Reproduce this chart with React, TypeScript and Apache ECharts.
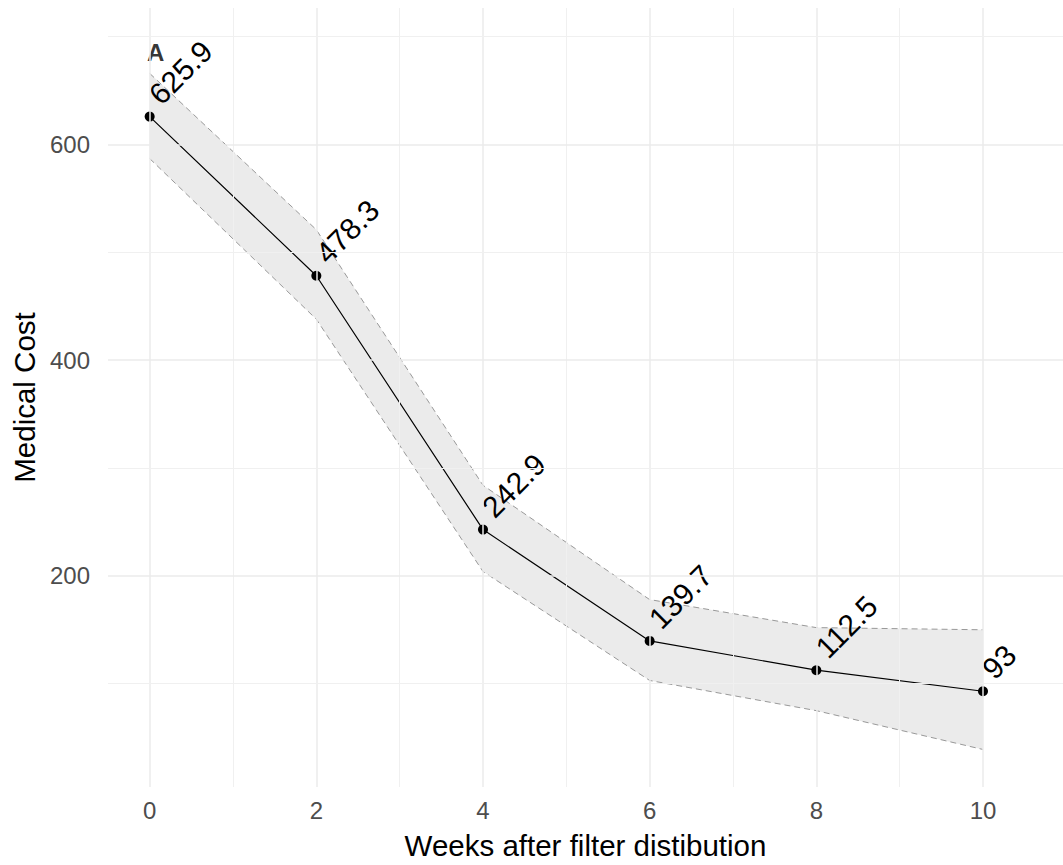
import React, { useEffect, useRef } from "react";
import * as echarts from "echarts";

const weeks = [0, 2, 4, 6, 8, 10];
const cost = [625.9, 478.3, 242.9, 139.7, 112.5, 93];
const upper = [666, 521, 284, 178, 152, 150];
const lower = [587, 438, 204, 103, 75, 39];
const xMajor = [0, 2, 4, 6, 8, 10];
const xMinor = [1, 3, 5, 7, 9];
const yMajor = [200, 400, 600];
const yMinor = [100, 300, 500, 700];
const panelLabel = "A";
const xTitle = "Weeks after filter distibution";
const yTitle = "Medical Cost";

const FONT = "'Liberation Sans', Arial, sans-serif";

export default function App() {
  const ref = useRef<HTMLDivElement>(null);
  useEffect(() => {
    if (!ref.current) return;
    const chart = echarts.init(ref.current, undefined, { renderer: "svg" });
    const gridLines: any[] = [];
    xMajor.forEach((v) => gridLines.push({ xAxis: v, lineStyle: { color: "#ebebeb", width: 1.5, type: "solid" } }));
    xMinor.forEach((v) => gridLines.push({ xAxis: v, lineStyle: { color: "#f0f0f0", width: 1, type: "solid" } }));
    yMajor.forEach((v) => gridLines.push({ yAxis: v, lineStyle: { color: "#ebebeb", width: 1.5, type: "solid" } }));
    yMinor.forEach((v) => gridLines.push({ yAxis: v, lineStyle: { color: "#f0f0f0", width: 1, type: "solid" } }));

    const option: any = {
      animation: false,
      backgroundColor: "#ffffff",
      textStyle: { fontFamily: FONT },
      grid: { left: 108, right: 0, top: 8, bottom: 75 },
      xAxis: {
        type: "value",
        min: -0.5,
        max: 10.96,
        splitLine: { show: false },
        axisLine: { show: false },
        axisTick: { show: false },
        axisLabel: {
          customValues: xMajor,
          color: "#4d4d4d",
          fontSize: 24,
          fontFamily: FONT,
          margin: 11,
        },
        name: xTitle,
        nameLocation: "middle",
        nameGap: 43,
        nameTextStyle: { color: "#000000", fontSize: 29.5, fontFamily: FONT },
      },
      yAxis: {
        type: "value",
        min: 4.2,
        max: 726.6,
        splitLine: { show: false },
        axisLine: { show: false },
        axisTick: { show: false },
        axisLabel: {
          customValues: yMajor,
          color: "#4d4d4d",
          fontSize: 24,
          fontFamily: FONT,
          margin: 18,
        },
        name: yTitle,
        nameLocation: "middle",
        nameGap: 58,
        nameTextStyle: { color: "#000000", fontSize: 29.5, fontFamily: FONT },
      },
      series: [
        {
          type: "line",
          data: [],
          z: 0,
          silent: true,
          markLine: {
            silent: true,
            symbol: ["none", "none"],
            label: { show: false },
            animation: false,
            data: gridLines,
          },
        },
        {
          type: "custom",
          z: 1,
          silent: true,
          data: [0],
          renderItem: (_params: any, api: any) => {
            const pts: number[][] = [];
            weeks.forEach((w, i) => pts.push(api.coord([w, upper[i]])));
            for (let i = weeks.length - 1; i >= 0; i--) pts.push(api.coord([weeks[i], lower[i]]));
            return {
              type: "polygon",
              shape: { points: pts },
              style: { fill: "rgba(153,153,153,0.2)", stroke: "none" },
            };
          },
        },
        {
          type: "line",
          z: 2,
          silent: true,
          data: weeks.map((w, i) => [w, upper[i]]),
          symbol: "none",
          lineStyle: { color: "#999999", width: 1, type: [6, 4] },
        },
        {
          type: "line",
          z: 2,
          silent: true,
          data: weeks.map((w, i) => [w, lower[i]]),
          symbol: "none",
          lineStyle: { color: "#999999", width: 1, type: [6, 4] },
        },
        {
          type: "line",
          z: 3,
          data: weeks.map((w, i) => [w, cost[i]]),
          symbol: "circle",
          symbolSize: 10,
          itemStyle: { color: "#000000" },
          lineStyle: { color: "#000000", width: 1.2 },
          label: {
            show: true,
            position: [20, -2],
            align: "left",
            verticalAlign: "bottom",
            rotate: 45,
            fontSize: 30,
            fontFamily: FONT,
            color: "#000000",
            formatter: (p: any) => String(p.value[1]),
          },
        },
        {
          type: "scatter",
          z: 4,
          data: [[0, 685]],
          symbolSize: 0,
          label: {
            show: true,
            position: "inside",
            offset: [6, 0],
            formatter: panelLabel,
            fontSize: 24,
            fontWeight: "bold",
            fontFamily: FONT,
            color: "#000000",
          },
        },
      ],
    };
    chart.setOption(option);
    return () => chart.dispose();
  }, []);
  return (
    <div
      ref={ref}
      style={{ position: "fixed", left: 0, top: 0, width: 1063, height: 865, background: "#fff" }}
    />
  );
}
